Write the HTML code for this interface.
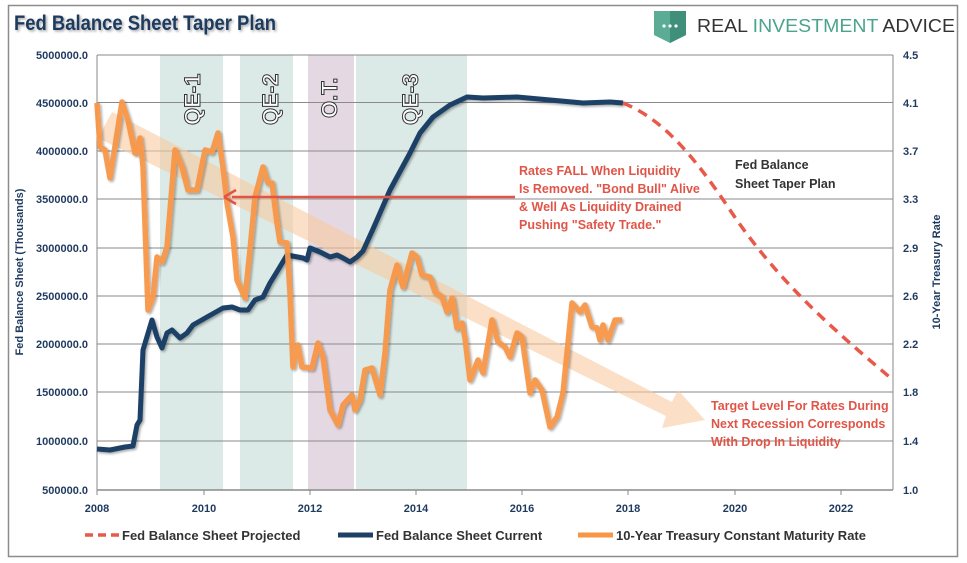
<!DOCTYPE html>
<html><head><meta charset="utf-8"><style>
body{margin:0;background:#fff;}
svg{display:block;font-family:"Liberation Sans",sans-serif;}
</style></head><body>
<svg width="967" height="563" viewBox="0 0 967 563" xmlns="http://www.w3.org/2000/svg">
<defs>
<filter id="sh" x="-5%" y="-5%" width="110%" height="110%"><feDropShadow dx="1.5" dy="1.5" stdDeviation="1.2" flood-color="#000" flood-opacity="0.35"/></filter>
</defs>
<rect x="0" y="0" width="967" height="563" fill="#fff"/>
<rect x="8.5" y="5.5" width="949" height="551" fill="none" stroke="#8c8c8c" stroke-width="1.5"/>
<text x="14" y="30" font-size="21" font-weight="bold" fill="#1f3a5f" textLength="262" lengthAdjust="spacingAndGlyphs" filter="url(#sh)">Fed Balance Sheet Taper Plan</text>
<!-- logo -->
<path d="M654 11 L686 11 L686 35 Q670 43 670 43 Q654 35 654 35 Z" fill="#5aac95"/>
<path d="M670 11 L686 11 L686 35 L670 43 Z" fill="#3f8f7a"/>
<circle cx="664" cy="26" r="1.6" fill="#fff"/><circle cx="670" cy="26" r="1.6" fill="#fff"/><circle cx="676" cy="26" r="1.6" fill="#fff"/>
<text x="697" y="32" font-size="18" fill="#333" textLength="258" lengthAdjust="spacingAndGlyphs">REAL <tspan fill="#4aa58c">INVESTMENT</tspan> ADVICE</text>
<!-- bands -->
<rect x="160" y="55" width="63" height="435" fill="#dbeae6"/>
<rect x="240" y="55" width="53" height="435" fill="#dbeae6"/>
<rect x="308" y="55" width="46" height="435" fill="#e4d9e2"/>
<rect x="356" y="55" width="111" height="435" fill="#dbeae6"/>
<!-- grid -->
<g stroke="#8a8a8a" stroke-width="1">
<line x1="97" y1="55" x2="893" y2="55"/><line x1="97" y1="102.5" x2="893" y2="102.5"/><line x1="97" y1="151" x2="893" y2="151"/><line x1="97" y1="199" x2="893" y2="199"/><line x1="97" y1="248" x2="893" y2="248"/><line x1="97" y1="296" x2="893" y2="296"/><line x1="97" y1="344" x2="893" y2="344"/><line x1="97" y1="392" x2="893" y2="392"/><line x1="97" y1="441" x2="893" y2="441"/>
<line x1="97" y1="490" x2="893" y2="490" stroke-width="1.5"/>
<line x1="97" y1="55" x2="97" y2="490"/><line x1="893" y1="55" x2="893" y2="490"/>
</g>
<g stroke="#8a8a8a"><line x1="97" y1="490" x2="97" y2="495"/><line x1="204" y1="490" x2="204" y2="495"/><line x1="310" y1="490" x2="310" y2="495"/><line x1="416" y1="490" x2="416" y2="495"/><line x1="522" y1="490" x2="522" y2="495"/><line x1="628" y1="490" x2="628" y2="495"/><line x1="735" y1="490" x2="735" y2="495"/><line x1="841" y1="490" x2="841" y2="495"/></g>
<!-- band labels -->
<g font-size="22" fill="#fff" stroke="#333" stroke-width="1" font-weight="bold">
<text transform="translate(200,125) rotate(-90)">QE-1</text>
<text transform="translate(278,125) rotate(-90)">QE-2</text>
<text transform="translate(337,118) rotate(-90)">O.T.</text>
<text transform="translate(418,125) rotate(-90)">QE-3</text>
</g>
<!-- big arrow -->
<path d="M98 138 L112 112 L672 402 L678 390 L705 420 L662 428 L666 416 Z" fill="#f9c9a0" opacity="0.6"/>
<!-- blue line -->
<polyline filter="url(#sh)" fill="none" stroke="#1f3f66" stroke-width="5" stroke-linejoin="round" points="97,449 110,450 125,447 133,446 137,425 140,420 143,350 152,320 157,337 162,348 167,333 172,330 180,338 187,333 193,325 207,317 223,308 232,307 240,310 248,310 255,300 263,297 270,283 278,270 287,255 303,258 307,260 310,248 320,252 330,257 337,255 343,258 350,262 357,257 363,251 373,229 390,190 410,153 420,133 433,117 450,105 467,97 483,98 517,97 550,100 583,103 610,102 623,103"/>
<!-- dashed projection -->
<path d="M623,103 C660,118 690,150 730,210 C780,285 840,335 893,380" fill="none" stroke="#e8594a" stroke-width="3.5" stroke-dasharray="10,7"/>
<!-- orange line -->
<polyline filter="url(#sh)" fill="none" stroke="#f79646" stroke-width="5.5" stroke-linejoin="round" opacity="0.95" points="97,103 100,147 105,150 110,178 122,102 128,120 135,153 140,138 143,167 148,310 153,297 157,257 162,262 167,247 175,150 182,167 188,190 197,190 205,150 212,152 218,133 223,167 227,203 233,237 237,280 245,298 250,250 255,197 263,167 268,183 272,183 277,223 280,242 287,243 290,293 293,367 298,345 302,367 312,368 318,343 323,357 330,410 338,425 343,405 352,395 355,410 360,400 365,370 372,368 380,395 385,353 390,290 397,265 403,287 412,253 417,257 422,275 430,277 435,292 442,297 447,312 452,298 457,328 462,323 465,338 470,380 478,360 483,373 492,320 498,342 505,347 510,357 517,333 522,337 530,393 535,380 542,390 550,427 557,417 563,393 572,303 580,312 585,305 592,327 597,328 600,340 603,325 608,340 615,320 622,320"/>
<!-- red arrow -->
<line x1="515" y1="197" x2="232" y2="197" stroke="#e05548" stroke-width="2.5"/>
<path d="M224 197 L236 190 M224 197 L236 204" stroke="#e05548" stroke-width="2.5" fill="none"/>
<!-- annotations -->
<g font-size="12.5" font-weight="bold" fill="#e05548">
<text x="519" y="175">Rates FALL When Liquidity</text>
<text x="519" y="193">Is Removed. "Bond Bull" Alive</text>
<text x="519" y="211">&amp; Well As Liquidity Drained</text>
<text x="519" y="229">Pushing "Safety Trade."</text>
<text x="711" y="410">Target Level For Rates During</text>
<text x="711" y="428">Next Recession Corresponds</text>
<text x="711" y="446">With Drop In Liquidity</text>
</g>
<g font-size="12.5" font-weight="bold" fill="#333">
<text x="735" y="169">Fed Balance</text>
<text x="735" y="188">Sheet Taper Plan</text>
</g>
<!-- left ticks -->
<g font-size="11" font-weight="bold" fill="#1f3a5f" text-anchor="end">
<text x="88" y="59">5000000.0</text><text x="88" y="107">4500000.0</text><text x="88" y="155">4000000.0</text><text x="88" y="203">3500000.0</text><text x="88" y="252">3000000.0</text><text x="88" y="300">2500000.0</text><text x="88" y="348">2000000.0</text><text x="88" y="396">1500000.0</text><text x="88" y="445">1000000.0</text><text x="88" y="494">500000.0</text>
</g>
<g font-size="11" font-weight="bold" fill="#1f3a5f">
<text x="903" y="59">4.5</text><text x="903" y="107">4.1</text><text x="903" y="155">3.7</text><text x="903" y="203">3.3</text><text x="903" y="252">2.9</text><text x="903" y="300">2.6</text><text x="903" y="348">2.2</text><text x="903" y="396">1.8</text><text x="903" y="445">1.4</text><text x="903" y="494">1.0</text>
</g>
<g font-size="11" font-weight="bold" fill="#1f3a5f" text-anchor="middle">
<text x="97" y="512">2008</text><text x="204" y="512">2010</text><text x="310" y="512">2012</text><text x="416" y="512">2014</text><text x="522" y="512">2016</text><text x="628" y="512">2018</text><text x="735" y="512">2020</text><text x="841" y="512">2022</text>
</g>
<text transform="translate(23,272) rotate(-90)" font-size="11" font-weight="bold" fill="#1f3a5f" text-anchor="middle">Fed Balance Sheet (Thousands)</text>
<text transform="translate(940,272) rotate(-90)" font-size="11" font-weight="bold" fill="#1f3a5f" text-anchor="middle">10-Year Treasury Rate</text>
<!-- legend -->
<line x1="85" y1="535" x2="120" y2="535" stroke="#e8594a" stroke-width="3.5" stroke-dasharray="8,5"/>
<line x1="338" y1="535" x2="373" y2="535" stroke="#1f3f66" stroke-width="5"/>
<line x1="578" y1="535" x2="613" y2="535" stroke="#f79646" stroke-width="5"/>
<g font-size="13" font-weight="bold" fill="#333">
<text x="122" y="540">Fed Balance Sheet Projected</text>
<text x="376" y="540">Fed Balance Sheet Current</text>
<text x="616" y="540">10-Year Treasury Constant Maturity Rate</text>
</g>
</svg>
</body></html>
